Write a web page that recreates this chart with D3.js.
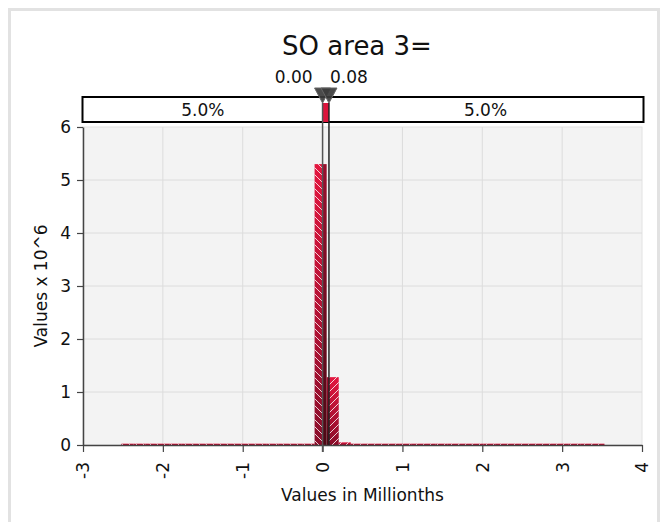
<!DOCTYPE html>
<html><head><meta charset="utf-8">
<script src="https://cdn.jsdelivr.net/npm/d3@7"></script>
<style>
html,body{margin:0;padding:0;background:#fff;}
text{font-family:"DejaVu Sans",Verdana,sans-serif;fill:#111;}
</style></head>
<body>
<svg id="chart" width="663" height="522"></svg>
<script>
// ---- data ----
const title = "SO area 3=";
const xAxisTitle = "Values in Millionths";
const yAxisTitle = "Values x 10^6";
const xTicks = [-3, -2, -1, 0, 1, 2, 3, 4];
const yTicks = [0, 1, 2, 3, 4, 5, 6];
const binStart = -2.52;
const binWidth = 0.15125;
const binValues = [0.025,0.025,0.025,0.025,0.025,0.025,0.025,0.025,0.025,0.025,
                   0.025,0.025,0.025,0.025,0.025,0.025,5.30,1.28,0.05,0.025,
                   0.025,0.025,0.025,0.025,0.025,0.025,0.025,0.025,0.025,0.025,
                   0.025,0.025,0.025,0.025,0.025,0.025,0.025,0.025,0.025,0.025];
const markerValues = [0.00, 0.08];
const markerLabels = ["0.00", "0.08"];
const bandLabels = ["5.0%", "5.0%"];

// ---- layout ----
const svg = d3.select("#chart");
const L = 83, R = 642, T = 127, B = 445;
const x = d3.scaleLinear().domain([-3, 4]).range([L, R]);
const y = d3.scaleLinear().domain([0, 6]).range([B, T]);
const fmt = d => String(d);

const defs = svg.append("defs");
function grad(id, c1, c2) {
  const g = defs.append("linearGradient").attr("id", id).attr("x1", 0).attr("y1", 0).attr("x2", 0).attr("y2", 1);
  g.append("stop").attr("offset", "0%").attr("stop-color", c1);
  g.append("stop").attr("offset", "100%").attr("stop-color", c2);
}
grad("gTail", "#e3163f", "#8a0d2a");
grad("gMid", "#9c0f2e", "#4e0815");
function hatch(id, dir) {
  const s = 7;
  const p = defs.append("pattern").attr("id", id).attr("patternUnits", "userSpaceOnUse")
    .attr("width", s).attr("height", s);
  if (dir > 0) {
    p.append("line").attr("x1", 0).attr("y1", s).attr("x2", s).attr("y2", 0);
    p.append("line").attr("x1", -1).attr("y1", 1).attr("x2", 1).attr("y2", -1);
    p.append("line").attr("x1", s - 1).attr("y1", s + 1).attr("x2", s + 1).attr("y2", s - 1);
  } else {
    p.append("line").attr("x1", 0).attr("y1", 0).attr("x2", s).attr("y2", s);
    p.append("line").attr("x1", s - 1).attr("y1", -1).attr("x2", s + 1).attr("y2", 1);
    p.append("line").attr("x1", -1).attr("y1", s - 1).attr("x2", 1).attr("y2", s + 1);
  }
  p.selectAll("line").attr("stroke", "#fff").attr("stroke-width", 1).attr("stroke-opacity", 0.8);
}
hatch("hL", -1);
hatch("hR", 1);

const xLo = x(markerValues[0]), xHi = x(markerValues[1]);
function clip(id, x0, x1) {
  defs.append("clipPath").attr("id", id).append("rect")
    .attr("x", x0).attr("y", 0).attr("width", x1 - x0).attr("height", 522);
}
clip("cL", 0, xLo);
clip("cM", xLo, xHi);
clip("cR", xHi, 663);

// outer frame
svg.append("rect").attr("x", 9.5).attr("y", 9.5).attr("width", 649).attr("height", 530)
  .attr("fill", "#fff").attr("stroke", "#e2e2e2").attr("stroke-width", 3);

// title
svg.append("text").attr("x", 357).attr("y", 55).attr("text-anchor", "middle")
  .style("font-size", "26px").text(title);

// plot background
svg.append("rect").attr("x", L).attr("y", T).attr("width", R - L).attr("height", B - T)
  .attr("fill", "#f3f3f3").attr("stroke", "#e2e2e2");

// grid
svg.append("g").selectAll("line").data(xTicks.slice(1, -1)).join("line")
  .attr("x1", d => x(d)).attr("x2", d => x(d)).attr("y1", T).attr("y2", B)
  .attr("stroke", "#dcdcdc").attr("stroke-width", 1);
svg.append("g").selectAll("line").data(yTicks.slice(1, -1)).join("line")
  .attr("x1", L).attr("x2", R).attr("y1", d => y(d)).attr("y2", d => y(d))
  .attr("stroke", "#dcdcdc").attr("stroke-width", 1);

// bars
const bins = binValues.map((v, i) => ({ x0: binStart + i * binWidth, x1: binStart + (i + 1) * binWidth, v }));
function drawBars(clipId, fill, pat) {
  const g = svg.append("g").attr("clip-path", `url(#${clipId})`);
  g.selectAll("rect.b").data(bins).join("rect").attr("class", "b")
    .attr("x", d => x(d.x0)).attr("width", d => x(d.x1) - x(d.x0))
    .attr("y", d => y(d.v)).attr("height", d => y(0) - y(d.v))
    .attr("fill", fill);
  if (pat) {
    g.selectAll("rect.h").data(bins).join("rect").attr("class", "h")
      .attr("x", d => x(d.x0)).attr("width", d => x(d.x1) - x(d.x0))
      .attr("y", d => y(d.v)).attr("height", d => y(0) - y(d.v))
      .attr("fill", `url(#${pat})`);
  }
}
drawBars("cL", "url(#gTail)", "hL");
drawBars("cM", "url(#gMid)", null);
drawBars("cR", "url(#gTail)", "hR");

// axes
const xAxis = svg.append("g").attr("transform", `translate(0,${B})`)
  .call(d3.axisBottom(x).tickValues(xTicks).tickFormat(fmt).tickSize(7).tickSizeOuter(0));
xAxis.select(".domain").attr("stroke", "#444").attr("stroke-width", 1.5);
xAxis.selectAll(".tick line").attr("stroke", "#444").attr("stroke-width", 1.2);
xAxis.selectAll(".tick text").attr("transform", "rotate(-90)").attr("x", -17).attr("y", 0)
  .attr("dy", "0.35em").attr("text-anchor", "end")
  .style("font-size", "17px").style("font-family", "DejaVu Sans").attr("fill", "#111");

const yAxis = svg.append("g").attr("transform", `translate(${L},0)`)
  .call(d3.axisLeft(y).tickValues(yTicks).tickFormat(fmt).tickSize(6).tickSizeOuter(0));
yAxis.select(".domain").attr("stroke", "#444").attr("stroke-width", 1.5);
yAxis.selectAll(".tick line").attr("stroke", "#444").attr("stroke-width", 1.2);
yAxis.selectAll(".tick text").attr("x", -12)
  .style("font-size", "17px").style("font-family", "DejaVu Sans").attr("fill", "#111");

// axis titles
svg.append("text").attr("transform", `translate(47,${(T + B) / 2}) rotate(-90)`)
  .attr("text-anchor", "middle").style("font-size", "17px").text(yAxisTitle);
svg.append("text").attr("x", (L + R) / 2).attr("y", 501).attr("text-anchor", "middle")
  .style("font-size", "17px").text(xAxisTitle);

// band
const bandTop = 97, bandBot = 122;
svg.append("rect").attr("x", L - 0.5).attr("y", bandTop).attr("width", R - L + 2).attr("height", bandBot - bandTop)
  .attr("fill", "#fff").attr("stroke", "#000").attr("stroke-width", 2);
svg.append("rect").attr("x", xLo).attr("y", 103).attr("width", xHi - xLo).attr("height", bandBot - 103)
  .attr("fill", "#dc143c");
svg.append("text").attr("x", (L + xLo) / 2).attr("y", 116).attr("text-anchor", "middle")
  .style("font-size", "17px").text(bandLabels[0]);
svg.append("text").attr("x", (xHi + R) / 2).attr("y", 116).attr("text-anchor", "middle")
  .style("font-size", "17px").text(bandLabels[1]);

// marker lines
svg.append("line").attr("x1", xLo).attr("x2", xLo).attr("y1", 103).attr("y2", B + 7)
  .attr("stroke", "#555").attr("stroke-width", 1.5);
svg.append("line").attr("x1", xHi).attr("x2", xHi).attr("y1", 103).attr("y2", B)
  .attr("stroke", "#222").attr("stroke-width", 1.5);

// marker triangles
markerValues.forEach(v => {
  const cx = x(v);
  svg.append("path").attr("d", `M${cx - 8},88 L${cx + 8},88 L${cx},103 Z`)
    .attr("fill", "#3c3c3c").attr("fill-opacity", 0.92).attr("stroke", "#666").attr("stroke-width", 1);
});
svg.append("text").attr("x", xLo - 10).attr("y", 83).attr("text-anchor", "end")
  .style("font-size", "17px").text(markerLabels[0]);
svg.append("text").attr("x", xHi + 1).attr("y", 83).attr("text-anchor", "start")
  .style("font-size", "17px").text(markerLabels[1]);
</script>
</body></html>
